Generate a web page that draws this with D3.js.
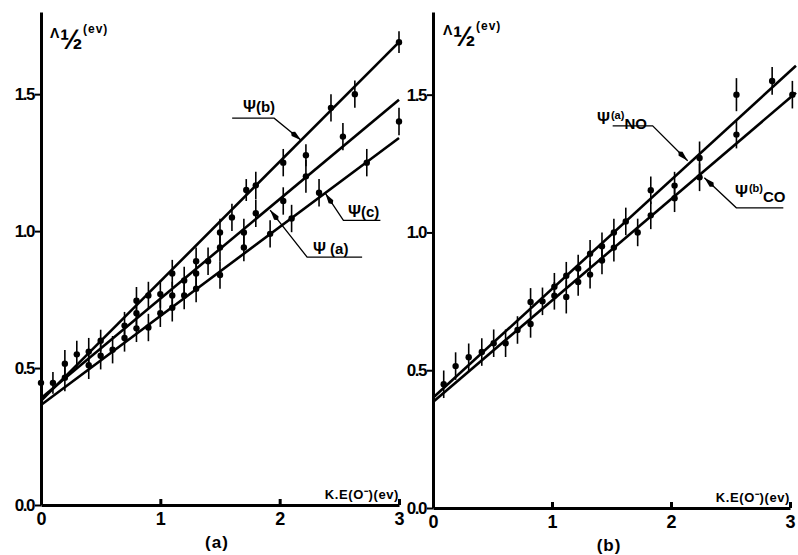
<!DOCTYPE html>
<html>
<head>
<meta charset="utf-8">
<script src="https://d3js.org/d3.v7.min.js"></script>
<style>
  body { margin: 0; background: #fff; }
  svg text { font-family: "Liberation Sans", Arial, sans-serif; font-weight: bold; fill: #000; }
</style>
</head>
<body>
<div id="chart"></div>
<script>
// ---- data: [KE(O-) eV, Lambda 1/2 eV, error half-length] ----
// panel (a)
var psiA_pts = [[0.0,0.446,0.04],[0.2,0.465,0.05],[0.7,0.655,0.05],[0.8,0.70,0.05],[1.0,0.77,0.05],
  [1.1,0.765,0.05],[1.2,0.82,0.05],[1.3,0.845,0.05],[1.4,0.89,0.05],[1.5,0.94,0.05],[1.7,0.995,0.05],
  [1.8,1.065,0.05],[2.03,1.11,0.05],[2.22,1.20,0.06],[2.53,1.345,0.05]];
var psiB_pts = [[0.1,0.446,0.04],[0.2,0.516,0.05],[0.3,0.55,0.05],[0.4,0.56,0.05],[0.5,0.60,0.04],
  [0.8,0.746,0.05],[0.9,0.765,0.05],[1.1,0.845,0.05],[1.3,0.89,0.05],[1.5,0.995,0.05],[1.6,1.05,0.05],
  [1.72,1.15,0.04],[1.8,1.167,0.05],[2.03,1.25,0.05],[2.22,1.277,0.04],[2.43,1.45,0.05],[2.63,1.50,0.05],[3.0,1.69,0.04]];
var psiC_pts = [[0.4,0.51,0.05],[0.5,0.545,0.05],[0.6,0.567,0.05],[0.7,0.61,0.05],[0.8,0.645,0.05],
  [0.9,0.648,0.05],[1.0,0.70,0.05],[1.1,0.72,0.05],[1.2,0.765,0.05],[1.3,0.79,0.05],[1.5,0.84,0.05],
  [1.7,0.94,0.05],[1.92,0.99,0.05],[2.1,1.046,0.05],[2.33,1.14,0.05],[2.73,1.25,0.05],[3.0,1.40,0.05]];
// fitted straight lines, end points
var psiA_fit = [[0,0.39],[3,1.48]];
var psiB_fit = [[0,0.38],[3,1.69]];
var psiC_fit = [[0,0.365],[3,1.34]];

// panel (b)
var NO_pts = [[0.09,0.449,0.05],[0.19,0.515,0.05],[0.30,0.547,0.05],[0.41,0.566,0.05],[0.51,0.598,0.05],
  [0.82,0.748,0.05],[0.92,0.75,0.05],[1.02,0.803,0.05],[1.12,0.843,0.05],[1.22,0.869,0.05],[1.32,0.923,0.05],
  [1.42,0.95,0.05],[1.52,1.00,0.05],[1.62,1.04,0.05],[1.83,1.153,0.05],[2.03,1.17,0.05],[2.24,1.27,0.06],
  [2.55,1.50,0.06],[2.85,1.55,0.05]];
var CO_pts = [[0.61,0.598,0.05],[0.71,0.646,0.05],[0.82,0.668,0.05],[1.02,0.77,0.05],[1.12,0.766,0.06],
  [1.22,0.82,0.05],[1.32,0.847,0.05],[1.42,0.898,0.05],[1.52,0.945,0.05],[1.72,1.00,0.05],[1.83,1.062,0.05],
  [2.03,1.124,0.05],[2.24,1.20,0.05],[2.55,1.355,0.05],[3.02,1.50,0.05]];
var NO_fit = [[0,0.40],[3.05,1.605]];
var CO_fit = [[0,0.385],[3.05,1.507]];

var xTicks = [0, 1, 2, 3];
var yTicks = [0, 0.5, 1.0, 1.5];

var svg = d3.select("#chart").append("svg").attr("width", 798).attr("height", 555);

function drawPanel(o) {
  var x = d3.scaleLinear().domain([0, 3]).range(o.xr);
  var y = d3.scaleLinear().domain([0, 1.8]).range(o.yr);
  var g = svg.append("g");

  // axes
  var ax = g.append("g").attr("transform", "translate(0," + o.yr[0] + ")")
    .call(d3.axisBottom(x).tickValues(xTicks).tickFormat(d3.format("d"))
      .tickSizeInner(-6).tickSizeOuter(0).tickPadding(7));
  ax.select(".domain").attr("stroke-width", 3);
  ax.selectAll(".tick line").attr("stroke-width", 3);
  ax.selectAll(".tick text").attr("font-size", 18).attr("font-family", "Liberation Sans").attr("font-weight", "bold");

  var ay = g.append("g").attr("transform", "translate(" + o.xr[0] + ",0)")
    .call(d3.axisLeft(y).tickValues(yTicks).tickFormat(d3.format(".1f"))
      .tickSizeInner(6).tickSizeOuter(0).tickPadding(1));
  ay.select(".domain").attr("stroke-width", 3);
  ay.selectAll(".tick line").attr("stroke-width", 2);
  ay.selectAll(".tick text").attr("font-size", 17).attr("letter-spacing", -1.5)
    .attr("font-family", "Liberation Sans").attr("font-weight", "bold");

  // fit lines
  var line = d3.line().x(function (d) { return x(d[0]); }).y(function (d) { return y(d[1]); });
  o.fits.forEach(function (f) {
    g.append("path").attr("d", line(f)).attr("fill", "none").attr("stroke", "#000").attr("stroke-width", 2.6);
  });

  // points with error bars
  o.pts.forEach(function (set) {
    g.selectAll(null).data(set).enter().append("line")
      .attr("x1", function (d) { return x(d[0]); }).attr("x2", function (d) { return x(d[0]); })
      .attr("y1", function (d) { return y(d[1] - d[2]); }).attr("y2", function (d) { return y(d[1] + d[2]); })
      .attr("stroke", "#000").attr("stroke-width", 1.6);
    g.selectAll(null).data(set).enter().append("circle")
      .attr("cx", function (d) { return x(d[0]); }).attr("cy", function (d) { return y(d[1]); })
      .attr("r", 3.2).attr("fill", "#000");
  });

  // leader lines with dart heads
  o.labels.forEach(function (L) {
    var f = L.fit, t = L.at;
    var tx = x(t) + (L.off ? L.off[0] : 0);
    var ty = y(f[0][1] + (f[1][1] - f[0][1]) * (t - f[0][0]) / (f[1][0] - f[0][0])) + (L.off ? L.off[1] : 0);
    var ex = tx + L.elbow[0], ey = ty + L.elbow[1];
    var ux = ex + L.under, uy = ey;
    g.append("path").attr("d", "M" + ux + "," + uy + "L" + ex + "," + ey + "L" + tx + "," + ty)
      .attr("fill", "none").attr("stroke", "#000").attr("stroke-width", 1.3);
    var a = Math.atan2(ty - ey, tx - ex), len = 10, w = 2.8;
    var bx = tx - len * Math.cos(a), by = ty - len * Math.sin(a);
    g.append("path").attr("d", "M" + tx + "," + ty +
        "L" + (bx - w * Math.sin(a)) + "," + (by + w * Math.cos(a)) +
        "L" + (bx - len * 0.3 * Math.cos(a)) + "," + (by - len * 0.3 * Math.sin(a)) +
        "L" + (bx + w * Math.sin(a)) + "," + (by - w * Math.cos(a)) + "Z")
      .attr("fill", "#000");
    var txt = g.append("text").attr("x", L.text[0]).attr("y", L.text[1]).attr("font-size", 15);
    txt.append("tspan").attr("font-size", 16).text("\u03A8");
    if (L.sup) {
      txt.append("tspan").attr("dx", 1).attr("dy", -5).attr("font-size", 11).text(L.sup);
      txt.append("tspan").attr("dy", 10).attr("font-size", 15).text(L.sub);
    } else {
      txt.append("tspan").text(L.name);
    }
  });

  // axis titles
  g.append("text").attr("x", o.xr[0] + o.lam[0]).attr("y", o.lam[1]).attr("font-size", 14).text("\u039B");
  g.append("text").attr("x", o.xr[0] + o.lam[0] + 10).attr("y", o.lam[1] + 11)
    .attr("font-size", 27).attr("font-weight", "normal").text("\u00BD");
  g.append("text").attr("x", o.xr[0] + o.lam[0] + 33).attr("y", o.lam[1] - 5)
    .attr("font-size", 12).attr("letter-spacing", 1).text("(ev)");

  g.append("text").attr("x", o.xr[1]).attr("y", o.yr[0] - 6).attr("text-anchor", "end")
    .attr("font-size", 13).attr("letter-spacing", 0.6).text("K.E(O\u207B)(ev)");

  g.append("text").attr("x", o.tag[0]).attr("y", o.tag[1]).attr("text-anchor", "middle")
    .attr("font-size", 17).attr("letter-spacing", 1).text(o.tagText);
}

drawPanel({
  xr: [41, 399], yr: [505, 12],
  fits: [psiB_fit, psiA_fit, psiC_fit],
  pts: [psiA_pts, psiB_pts, psiC_pts],
  labels: [
    { fit: psiB_fit, at: 2.18, elbow: [-27, -22], under: -42, text: [243, 112], name: "(b)" },
    { fit: psiC_fit, at: 2.4, off: [-2, 2], elbow: [18, 27], under: 37, text: [348, 217], name: "(c)" },
    { fit: psiA_fit, at: 1.92, off: [0, 3], elbow: [37, 47], under: 55, text: [313, 254], name: " (a)" }
  ],
  lam: [9, 38], tag: [217, 548], tagText: "(a)"
});

drawPanel({
  xr: [433, 790], yr: [508, 12],
  fits: [NO_fit, CO_fit],
  pts: [NO_pts, CO_pts],
  labels: [
    { fit: NO_fit, at: 2.14, off: [0, -4], elbow: [-35, -35], under: -40, text: [597, 124], sup: "(a)", sub: "NO" },
    { fit: CO_fit, at: 2.28, off: [0, 7], elbow: [32, 30], under: 47, text: [735, 197], sup: "(b)", sub: "CO" }
  ],
  lam: [10, 35], tag: [609, 551], tagText: "(b)"
});
</script>
</body>
</html>
